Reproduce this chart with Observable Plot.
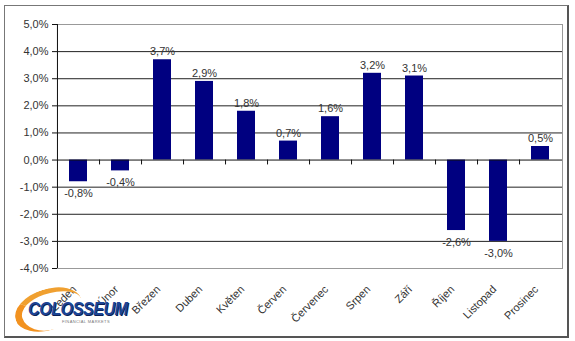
<!DOCTYPE html>
<html>
<head>
<meta charset="utf-8">
<script src="https://cdn.jsdelivr.net/npm/d3@7"></script>
<script src="https://cdn.jsdelivr.net/npm/@observablehq/plot@0.6"></script>
<style>
  body { margin: 0; background: #fff; }
  #wrap { position: relative; width: 575px; height: 341px; overflow: hidden; font-family: "Liberation Sans", Arial, sans-serif; }
  #border { position: absolute; left: 4px; top: 5px; width: 562px; height: 330px; border: 1px solid #777; border-right: 2px solid #555; border-bottom: 2px solid #555; pointer-events: none; z-index: 3; }
  #logo { position: absolute; left: 10px; top: 284px; width: 120px; height: 46px; z-index: 2; pointer-events: none; }
  #swoosh { position: absolute; left: 4px; top: 5px; width: 62px; height: 36px; border-radius: 50%; border-top: 5px solid #f0a030; border-left: 7px solid #f29220; transform: rotate(-18deg); }
  #logoText { position: absolute; left: 18px; top: 15px; font: italic bold 18px "Liberation Sans", Arial, sans-serif; color: #1d4596; letter-spacing: -0.6px; text-shadow: 1px 1px 0 #0b1f55; transform: scaleX(0.9); transform-origin: left; }
  #logoSub { position: absolute; left: 52px; top: 35px; font: 4px "Liberation Sans", Arial, sans-serif; color: #777; letter-spacing: 0.4px; white-space: nowrap; }
  #chart { position: absolute; left: 0; top: 0; z-index: 1; }
</style>
</head>
<body>
<div id="wrap">
  <div id="chart"></div>
  <div id="logo"><div id="swoosh"></div><div id="logoText">COLOSSEUM</div><div id="logoSub">FINANCIAL MARKETS</div></div>
  <div id="border"></div>
</div>
<script>
const months = ["Leden","Únor","Březen","Duben","Květen","Červen","Červenec","Srpen","Září","Říjen","Listopad","Prosinec"];
const values = [-0.8,-0.4,3.7,2.9,1.8,0.7,1.6,3.2,3.1,-2.6,-3.0,0.5];
const yTicks = [-4,-3,-2,-1,0,1,2,3,4,5];
const gridLines = [-3,-2,-1,1,2,3,4];

const data = months.map((m, i) => ({month: m, value: values[i]}));
const fmt = d => d.toFixed(1).replace(".", ",") + "%";

const W = 575, H = 341, mL = 57, mR = 13, mT = 24, mB = 73;
const step = (W - mL - mR) / months.length;

const chart = Plot.plot({
  width: W, height: H,
  marginLeft: mL, marginRight: mR, marginTop: mT, marginBottom: mB,
  style: {fontFamily: "'Liberation Sans', Arial, sans-serif", fontSize: "11px", color: "#333", background: "transparent"},
  x: {domain: months, paddingInner: 0.57, paddingOuter: 0.285, label: null, axis: null},
  y: {domain: [-4, 5], label: null},
  marks: [
    Plot.ruleY(gridLines, {stroke: "#222", strokeWidth: 1}),
    Plot.frame({stroke: "#999"}),
    Plot.barY(data, {x: "month", y: "value", fill: "#000080"}),
    Plot.ruleY([0], {stroke: "#111"}),
    Plot.ruleX(months.slice(0, -1), {x: d => d, y1: 0, y2: -0.18, dx: step / 2, stroke: "#111"}),
    Plot.ruleX([months[0]], {x: d => d, y1: -4, y2: 5, dx: -step / 2, stroke: "#111"}),
    Plot.axisY({ticks: yTicks, tickFormat: fmt, tickSize: 5, tickPadding: 4, stroke: "#111", fill: "#333"}),
    Plot.text(months, {x: d => d, y: () => -4, text: d => d, rotate: -45, textAnchor: "end",
      dy: 19, dx: -4, fill: "#333"}),
    Plot.text(data.filter(d => d.value >= 0), {x: "month", y: "value", text: d => fmt(d.value), dy: -8, fill: "#333"}),
    Plot.text(data.filter(d => d.value < 0), {x: "month", y: "value", text: d => fmt(d.value), dy: 12, fill: "#333"})
  ]
});
document.getElementById("chart").appendChild(chart);
</script>
</body>
</html>
